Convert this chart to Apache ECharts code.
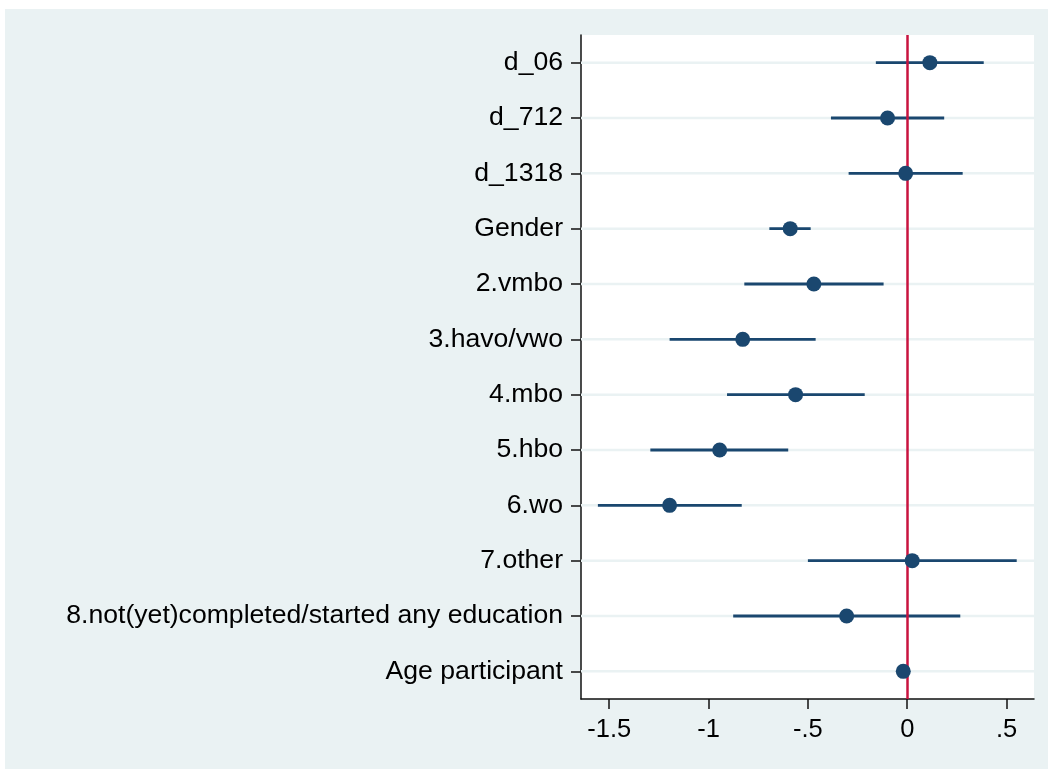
<!DOCTYPE html>
<html>
<head>
<meta charset="utf-8">
<script src="https://cdn.jsdelivr.net/npm/echarts@6/dist/echarts.min.js"></script>
<style>
html,body{margin:0;padding:0;background:#fff;}
#c{width:1048px;height:769px;}
</style>
</head>
<body>
<div id="c"></div>
<script>
const categories = ['d_06','d_712','d_1318','Gender','2.vmbo','3.havo/vwo','4.mbo','5.hbo','6.wo','7.other','8.not(yet)completed/started any education','Age participant'];
const estimates = [0.114,-0.099,-0.008,-0.589,-0.470,-0.828,-0.562,-0.944,-1.196,0.025,-0.305,-0.020];
const ciLow  = [-0.158,-0.384,-0.295,-0.694,-0.820,-1.196,-0.907,-1.293,-1.557,-0.500,-0.876,-0.032];
const ciHigh = [0.385,0.186,0.279,-0.486,-0.119,-0.461,-0.214,-0.599,-0.833,0.551,0.267,-0.008];
const xTicks = [-1.5,-1,-0.5,0,0.5];
const xTickLabels = ['-1.5','-1','-.5','0','.5'];

const FONT = "'Liberation Sans', Arial, Helvetica, sans-serif";
const chart = echarts.init(document.getElementById('c'), null, {renderer:'canvas'});

const ciData = categories.map((c,i)=>[ciLow[i], ciHigh[i], i]);
const ptData = categories.map((c,i)=>[estimates[i], i]);
const gridData = categories.map((c,i)=>[0, i]);

chart.setOption({
  animation:false,
  backgroundColor:'#ffffff',
  graphic:[{type:'rect', left:5, top:9, shape:{width:1043, height:760}, style:{fill:'#eaf2f3'}, z:-10, silent:true}],
  grid:{left:581, top:35, right:14, bottom:70, show:true, backgroundColor:'#ffffff', borderWidth:0},
  xAxis:{
    type:'value', min:-1.642, max:0.638,
    axisLine:{show:true, onZero:false, lineStyle:{color:'#111', width:1.5}},
    axisTick:{show:true, length:10, customValues:xTicks, lineStyle:{color:'#111', width:1.5}},
    axisLabel:{customValues:xTicks, margin:18, color:'#000', fontSize:25.5, fontFamily:FONT,
      formatter:function(v){ const k = xTicks.findIndex(t=>Math.abs(t-v)<1e-9); return k>=0 ? xTickLabels[k] : ''; }},
    splitLine:{show:false}
  },
  yAxis:{
    type:'category', data:categories, inverse:true,
    axisLine:{show:true, onZero:false, lineStyle:{color:'#111', width:1.5}},
    axisTick:{show:true, alignWithLabel:true, length:10, lineStyle:{color:'#111', width:1.5}},
    axisLabel:{margin:18, color:'#000', fontSize:26.6, fontFamily:FONT, padding:[4,0,0,0]},
    splitLine:{show:false}
  },
  series:[
    {
      type:'custom', coordinateSystem:'cartesian2d', xAxisIndex:0, yAxisIndex:0, z:1, silent:true,
      data:gridData, encode:{x:0, y:1},
      renderItem:function(params, api){
        const p = api.coord([api.value(0), api.value(1)]);
        const cs = params.coordSys;
        return {type:'line', shape:{x1:cs.x, y1:p[1], x2:cs.x+cs.width, y2:p[1]},
          style:{stroke:'#eaf2f3', lineWidth:2.5}};
      }
    },
    {
      type:'custom', coordinateSystem:'cartesian2d', xAxisIndex:0, yAxisIndex:0, z:2, silent:true,
      data:ciData, encode:{x:[0,1], y:2},
      renderItem:function(params, api){
        const a = api.coord([api.value(0), api.value(2)]);
        const b = api.coord([api.value(1), api.value(2)]);
        return {type:'line', shape:{x1:a[0], y1:a[1], x2:b[0], y2:b[1]},
          style:{stroke:'#1a476f', lineWidth:2.8}};
      }
    },
    {
      type:'scatter', coordinateSystem:'cartesian2d', xAxisIndex:0, yAxisIndex:0, z:4, silent:true,
      data:ptData, symbol:'circle', symbolSize:15,
      itemStyle:{color:'#1a476f', opacity:1},
      markLine:{z:3, silent:true, symbol:'none', label:{show:false}, animation:false,
        lineStyle:{color:'#c8133f', width:2.5, type:'solid'},
        data:[{xAxis:0}]}
    }
  ]
});
</script>
</body>
</html>
